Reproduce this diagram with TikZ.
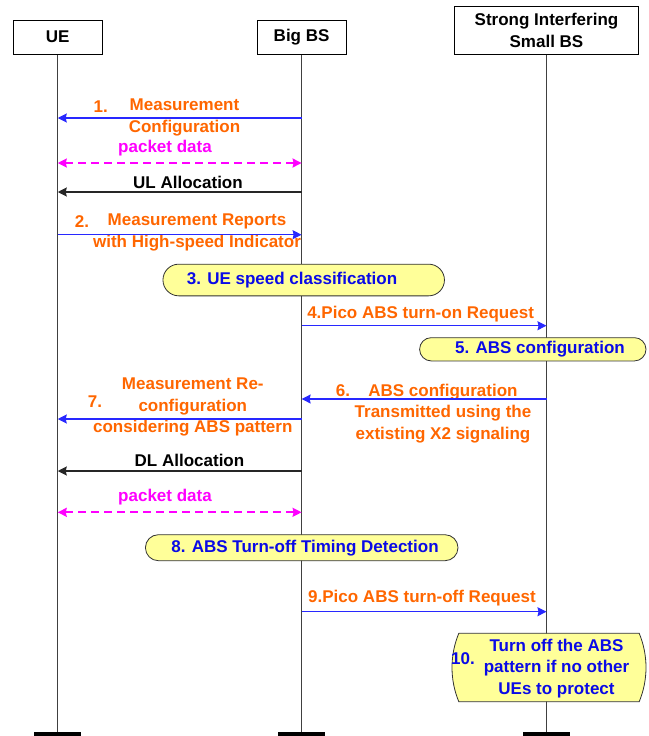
\documentclass[tikz,border=0pt]{standalone}
\usepackage{fontspec}
\setmainfont{Liberation Sans}
\usepackage{tikz}
\usetikzlibrary{arrows.meta,shapes.misc,calc}

\definecolor{msgorange}{RGB}{255,102,0}
\definecolor{stepblue}{RGB}{10,10,230}
\definecolor{linkblue}{RGB}{40,40,255}
\definecolor{pktpink}{RGB}{255,0,255}
\definecolor{boxyellow}{RGB}{255,255,153}

\begin{document}
\begin{tikzpicture}[x=1pt,y=-1pt,
  >={Stealth[length=9pt,width=9pt,inset=1pt]},
  every node/.style={font=\fontsize{17}{21.5}\selectfont\bfseries, inner sep=0pt},
  entity/.style={draw, fill=white, line width=0.8pt, align=center},
  life/.style={draw=black!75, line width=0.8pt},
  endbar/.style={line width=4pt},
  msg/.style={->, draw=linkblue, line width=1.2pt},
  alloc/.style={->, draw=black!85, line width=1.4pt},
  pkt/.style={<->, draw=pktpink, line width=1.8pt, dash pattern=on 8pt off 5pt},
  note/.style={text=msgorange, align=center},
  proc/.style={rounded rectangle, draw=black!80, fill=boxyellow, line width=0.8pt},
  proctext/.style={text=stepblue, align=center}]
    \useasboundingbox (0,0) rectangle (648,736);

    % entities
    \node[entity, minimum width=89pt, minimum height=34pt]   (ue)  at (57.75,37.2) {UE};
    \node[entity, minimum width=89pt, minimum height=34pt]   (bbs) at (301.6,37.2) {Big BS};
    \node[entity, minimum width=183.5pt, minimum height=48pt] (sbs) at (546.5,30.2) {Strong Interfering\\Small BS};

    \foreach \n in {ue,bbs,sbs} {
      \coordinate (\n End) at (\n |- 0,734);
      \draw[life] (\n) -- (\n End);
      \draw[endbar] ([xshift=-23.5pt]\n End) -- ([xshift=23.5pt]\n End);
    }

    % 1. measurement configuration
    \node[note] (m1n) at (100.7,107) {1.};
    \node[note] (m1)  at (184.5,117.5) {Measurement\\Configuration};
    \draw[msg] (bbs |- 0,118) -- (ue |- 0,118);

    \node[text=pktpink] (pk1) at (165,148) {packet data};
    \draw[pkt] (ue |- 0,163) -- (bbs |- 0,163);

    \node (ul) at (188,182) {UL Allocation};
    \draw[alloc] (bbs |- 0,192) -- (ue |- 0,192);

    % 2. reports
    \node[note] (m2n) at (82,222) {2.};
    \node[note] (m2)  at (197,232.5) {Measurement Reports\\with High-speed Indicator};
    \draw[msg] (ue |- 0,234.7) -- (bbs |- 0,234.7);

    % 3. classification
    \node[proc, minimum width=281.5pt, minimum height=31.7pt] (p3) at (303.7,280) {};
    \node[proctext] (p3t) at (292,280) {3. UE speed classification};

    % 4. turn-on request
    \node[note] (m4) at (420.6,314) {4.Pico ABS turn-on Request};
    \draw[msg] (bbs |- 0,325.7) -- (sbs |- 0,325.7);

    % 5. ABS configuration
    \node[proc, minimum width=226.4pt, minimum height=23.3pt] (p5) at (532.8,349.3) {};
    \node[proctext] (p5t) at (540,349) {5. ABS configuration};

    % 6. X2 signaling
    \node[note] (m6n) at (343,390.7) {6.};
    \node[note] (m6)  at (443,413.5) {ABS configuration\\Transmitted using the\\extisting X2 signaling};
    \draw[msg] (sbs |- 0,399) -- (bbs |- 0,399);

    % 7. re-configuration
    \node[note] (m7n) at (95,401.7) {7.};
    \node[note] (m7)  at (192.8,407) {Measurement Re-\\configuration\\considering ABS pattern};
    \draw[msg] (bbs |- 0,419) -- (ue |- 0,419);

    \node (dl) at (189.5,460.7) {DL Allocation};
    \draw[alloc] (bbs |- 0,471) -- (ue |- 0,471);

    \node[text=pktpink] (pk2) at (165,496.7) {packet data};
    \draw[pkt] (ue |- 0,512.3) -- (bbs |- 0,512.3);

    % 8. timing detection
    \node[proc, minimum width=312.6pt, minimum height=26pt] (p8) at (301.7,547.7) {};
    \node[proctext] (p8t) at (305,547.7) {8. ABS Turn-off Timing Detection};

    % 9. turn-off request
    \node[note] (m9) at (422,598.3) {9.Pico ABS turn-off Request};
    \draw[msg] (bbs |- 0,611.7) -- (sbs |- 0,611.7);

    % 10. turn off
    \node[proc, rounded rectangle arc length=45, minimum width=194pt, minimum height=68.4pt] (p10) at (549,667.5) {};
    \node[proctext] (p10n) at (463,659) {10.};
    \node[proctext] (p10t) at (556.5,668.5) {Turn off the ABS\\pattern if no other\\UEs to protect};

\end{tikzpicture}
\end{document}
